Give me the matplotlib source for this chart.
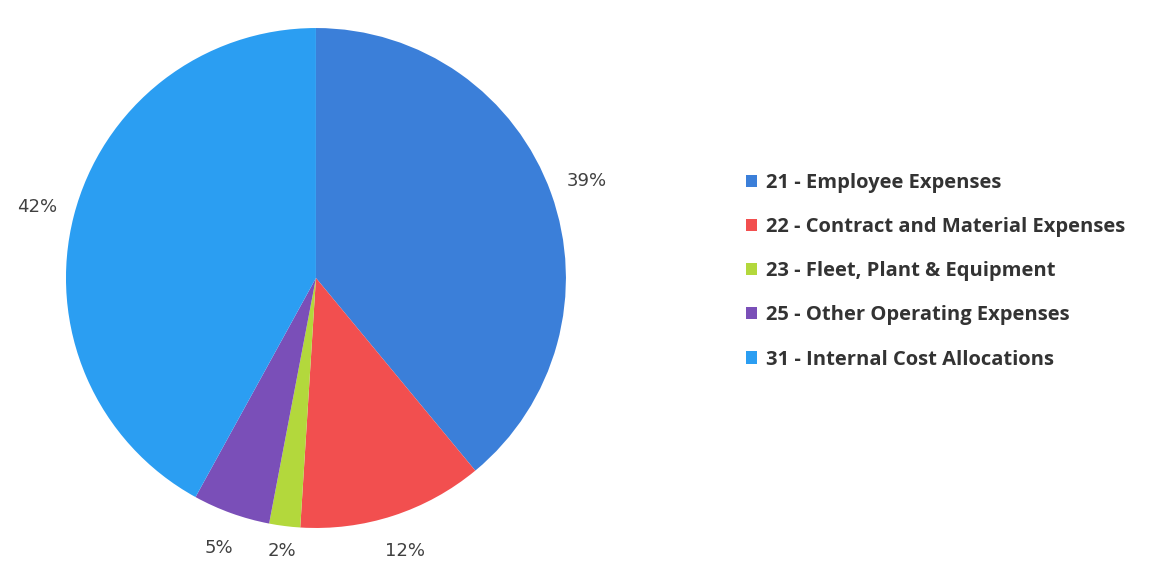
import matplotlib
matplotlib.use("Agg")
import matplotlib.pyplot as plt
from matplotlib.patches import Patch

categories = ["21 - Employee Expenses", "22 - Contract and Material Expenses",
              "23 - Fleet, Plant & Equipment", "25 - Other Operating Expenses",
              "31 - Internal Cost Allocations"]
values = [39, 12, 2, 5, 42]
colors = ["#3b7fd9", "#f24f4f", "#b3d83c", "#7a4fb8", "#2b9ef2"]

fig = plt.figure(figsize=(11.51, 5.63), dpi=100)
ax = fig.add_axes([0.0573, 0.0622, 0.4344, 0.888])
wedges, texts, autotexts = ax.pie(values, colors=colors, startangle=90, counterclock=False,
                                  autopct=lambda p: f"{p:.0f}%", pctdistance=1.15,
                                  wedgeprops=dict(linewidth=0))
for i, t in enumerate(autotexts):
    t.set_color("#404040")
    t.set_fontsize(13)
    t.set_family("DejaVu Sans")
    if i == 2:
        x, y = t.get_position()
        t.set_position((x * 1.10 / 1.15, y * 1.10 / 1.15))
ax.set_aspect("equal")
ax.set_xlim(-1, 1)
ax.set_ylim(-1, 1)

handles = [Patch(facecolor=c, edgecolor="none") for c in colors]
leg = fig.legend(handles, categories, loc="upper left", bbox_to_anchor=(0.632, 0.725),
                 frameon=False, handlelength=0.55, handleheight=0.55, handletextpad=0.45,
                 labelspacing=1.2, prop=dict(family="Open Sans", weight="bold", size=14.5))
for t in leg.get_texts():
    t.set_color("#333333")

fig.savefig("out.png", dpi=100)
